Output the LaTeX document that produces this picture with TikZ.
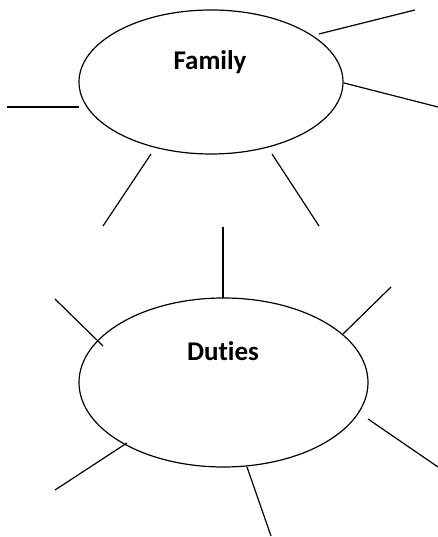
\documentclass[tikz,border=0pt]{standalone}
\usepackage{fontspec}
\setmainfont[RawFeature={-liga}]{Carlito}
\usetikzlibrary{shapes.geometric}
\tikzset{
  bubble/.style={draw=black, line width=1.2pt, ellipse, inner sep=0pt},
  spoke/.style={draw=black, line width=1.2pt},
  title/.style={font=\fontsize{27}{32}\selectfont\bfseries, inner sep=0pt, anchor=base}
}
\begin{document}
\begin{tikzpicture}[x=1pt,y=1pt]
\useasboundingbox (0,0) rectangle (438,537);
% upper bubble
\node[bubble, minimum width=264pt, minimum height=144pt] (family) at (211,455) {};
\node[title] (familytxt) at (210,467) {Family};
% lower bubble
\node[bubble, minimum width=289pt, minimum height=169pt] (duties) at (223.5,154.5) {};
\node[title] (dutiestxt) at (223,176) {Duties};
% spoke end points around the upper bubble
\coordinate (f1a) at (7,430);   \coordinate (f1b) at (79,430);
\coordinate (f2a) at (319,503); \coordinate (f2b) at (415,527);
\coordinate (f3a) at (344,454); \coordinate (f3b) at (438,430);
\coordinate (f4a) at (151,383); \coordinate (f4b) at (103,311);
\coordinate (f5a) at (272,383); \coordinate (f5b) at (319,311);
% spoke end points around the lower bubble
\coordinate (d1a) at (223,310); \coordinate (d1b) at (223,239);
\coordinate (d2a) at (55,238);  \coordinate (d2b) at (103,191);
\coordinate (d3a) at (343,203); \coordinate (d3b) at (391,250);
\coordinate (d4a) at (55,47);   \coordinate (d4b) at (127,94);
\coordinate (d5a) at (368,118); \coordinate (d5b) at (438,70);
\coordinate (d6a) at (247,70);  \coordinate (d6b) at (271,1);
% spokes
\foreach \s in {f1,f2,f3,f4,f5,d1,d2,d3,d4,d5,d6}
  \draw[spoke] (\s a) -- (\s b);
\end{tikzpicture}
\end{document}
